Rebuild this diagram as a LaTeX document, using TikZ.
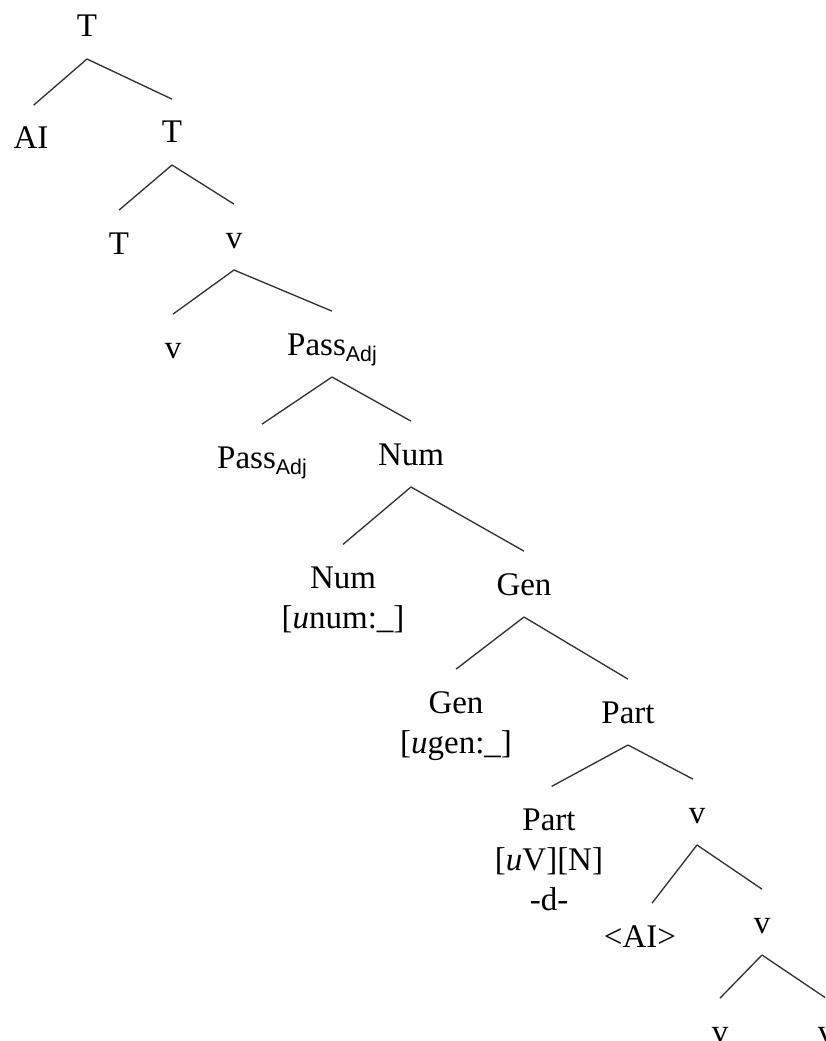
\documentclass[tikz,border=0pt]{standalone}
\usepackage{fontspec}
\setmainfont{Liberation Serif}
\setsansfont{Liberation Sans}
\usepackage{tikz}

\newcommand{\treefont}{\fontsize{24.75pt}{30pt}\selectfont}
\newcommand{\catsub}[1]{\raisebox{-5pt}{\fontsize{16pt}{18pt}\selectfont\sffamily #1}}

\begin{document}
\begin{tikzpicture}[x=0.75pt,y=-0.75pt,cat/.style={font=\treefont,inner sep=0pt,outer ysep=16.5pt,text height=16.4pt,text depth=0pt,anchor=base},feat/.style={font=\treefont,inner sep=0pt,outer ysep=16.5pt,align=center,anchor=base},branch/.style={line width=1pt,black!80}]
\useasboundingbox (0,0) rectangle (825,1041);
\clip (0,0) rectangle (825,1041);
\node[cat] (t0) at (87,37) {T};
\node[cat] (ai) at (31,149) {AI};
\node[cat] (t1) at (172,143) {T};
\node[cat] (t2) at (119,254) {T};
\node[cat] (v0) at (234,248) {v};
\node[cat] (v1) at (173,358) {v};
\node[cat] (pa0) at (332,355) {Pass\catsub{Adj}};
\node[cat] (pa1) at (262,468) {Pass\catsub{Adj}};
\node[cat] (num0) at (411,465) {Num};
\node[feat] (num1) at (343,628) {Num\\{}[\textit{u}num:\_]};
\node[cat] (gen0) at (524,595) {Gen};
\node[feat] (gen1) at (456,753) {Gen\\{}[\textit{u}gen:\_]};
\node[cat] (part0) at (628,723) {Part};
\node[feat] (part1) at (549,910) {Part\\{}[\textit{u}V][N]\\-d-};
\node[cat] (v2) at (697,823) {v};
\node[cat] (ai1) at (640,947) {\textless AI\textgreater};
\node[cat] (v3) at (762,933) {v};
\node[cat] (v4) at (720,1042) {v};
\node[cat] (v5) at (826,1042) {v};
\foreach \p/\c/\s in %
{t0/ai/2pt,t0/t1/0pt,t1/t2/0pt,t1/v0/0pt,v0/v1/0pt,v0/pa0/0pt,pa0/pa1/0pt,pa0/num0/0pt,num0/num1/0pt,num0/gen0/0pt,gen0/gen1/0pt,gen0/part0/0pt,part0/part1/2pt,part0/v2/-3pt,v2/ai1/9pt,v2/v3/0pt,v3/v4/0pt,v3/v5/0pt} {
   \draw[branch] (\p.south) -- ([xshift=\s]\c.north);
}
\end{tikzpicture}
\end{document}
